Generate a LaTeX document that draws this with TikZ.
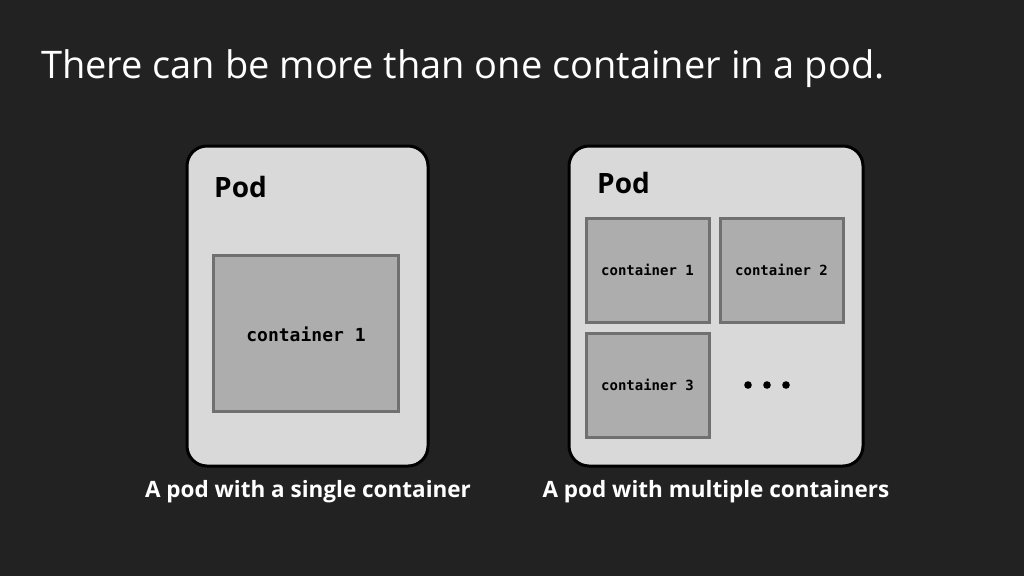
\documentclass[tikz,border=0pt]{standalone}
\usepackage{fontspec}
\setmainfont{Open Sans}
\newfontfamily\monof{DejaVu Sans Mono}
\definecolor{bg}{HTML}{222222}
\definecolor{podfill}{HTML}{D9D9D9}
\definecolor{boxfill}{HTML}{ADADAD}
\definecolor{boxline}{HTML}{707070}
\begin{document}
\begin{tikzpicture}[x=1pt,y=-1pt,
  pod/.style={draw=black,line width=3pt,fill=podfill,rounded corners=20pt},
  cbox/.style={draw=boxline,line width=3pt,fill=boxfill},
  podlabel/.style={font=\fontsize{28}{30}\selectfont\bfseries,text=black,anchor=west,inner sep=0pt},
  ctext/.style={font=\monof\bfseries\fontsize{14}{16}\selectfont,text=black},
  caption/.style={font=\fontsize{22.5}{25}\selectfont\bfseries,text=white}]
\fill[bg] (0,0) rectangle (1024,576);
\useasboundingbox (0,0) rectangle (1024,576);
\node[anchor=west,text=white,font=\fontsize{38}{42}\selectfont,inner sep=0pt] (title) at (41,69) {There can be more than one container in a pod.};
% left pod
\draw[pod] (187,146) rectangle (428,466);
\node[podlabel] (pl1) at (214,187) {Pod};
\draw[cbox] (213,255) rectangle (398,411);
\node[ctext,font=\monof\bfseries\fontsize{18}{20}\selectfont] (lc1) at (306,334) {container 1};
\node[caption] (cap1) at (308,492) {A pod with a single container};
% right pod
\draw[pod] (569,146) rectangle (863,466);
\node[podlabel] (pl2) at (597,183) {Pod};
\draw[cbox] (586,218) rectangle (709,322);
\draw[cbox] (720,218) rectangle (843,322);
\draw[cbox] (586,333) rectangle (709,437);
\node[ctext] (rc1) at (647.5,270) {container 1};
\node[ctext] (rc2) at (781.5,270) {container 2};
\node[ctext] (rc3) at (647.5,385) {container 3};
\foreach \xx in {748,767,786} \fill[black] (\xx,385) circle (3.8pt);
\node[caption] (cap2) at (716,492) {A pod with multiple containers};
\end{tikzpicture}
\end{document}
